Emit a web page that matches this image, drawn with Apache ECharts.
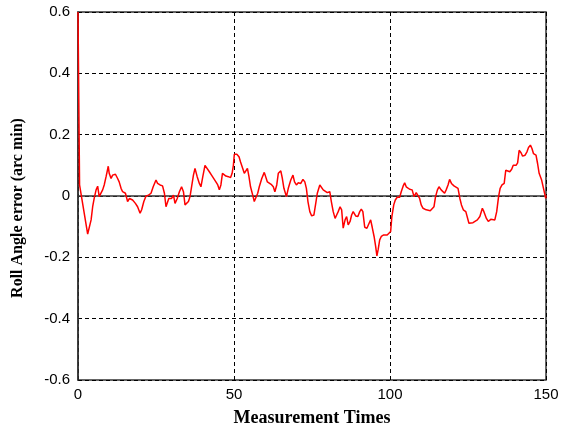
<!DOCTYPE html>
<html>
<head>
<meta charset="utf-8">
<script src="https://cdn.jsdelivr.net/npm/echarts@6/dist/echarts.min.js"></script>
<style>
html, body { margin: 0; padding: 0; background: #fff; }
#chart { width: 566px; height: 432px; }
</style>
</head>
<body>
<div id="chart"></div>
<script>
var times = [
  0, 0.5, 3.1, 4.2, 4.7, 5.2, 5.8, 6.3, 6.8, 7.4, 7.9, 8.4, 9, 9.7, 10, 10.6, 11.1, 12, 12.7, 13.2,
  13.8, 14.3, 15.2, 15.9, 16.5, 17, 17.5, 18.4, 19.1, 19.9, 20.4, 21.1, 21.8, 22.6, 23.4, 24.1, 25, 25.5,
  26.3, 27.1, 27.7, 28.2, 29.1, 30, 30.6, 31.1, 31.8, 32.5, 33.2, 33.8, 34.3, 34.8, 35.4, 35.9, 36.4,
  37, 37.5, 38.2, 38.9, 39.4, 40, 40.7, 41.2, 42.1, 42.8, 43.4, 44.2, 44.8, 45.3, 45.8, 46.3, 46.8,
  47.4, 48.2, 48.9, 49.4, 49.8, 50.1, 50.9, 51.6, 52.1, 52.8, 53.3, 53.8, 54.3, 54.8, 55.3, 56, 56.5,
  57.1, 57.6, 58.1, 58.9, 59.7, 60.2, 60.7, 61.2, 61.9, 62.6, 63.1, 63.7, 64.2, 65, 65.5, 66, 66.8,
  67.4, 68.2, 68.9, 69.4, 70, 70.6, 71.4, 72.1, 72.7, 73.2, 73.7, 74.3, 74.9, 75.6, 76.2, 76.7, 77.5,
  78.1, 78.6, 79.2, 79.9, 80.7, 81.2, 81.8, 82.4, 82.9, 83.4, 84, 84.5, 85, 85.6, 86.1, 86.6, 87.2,
  87.7, 88.2, 89, 89.7, 90.3, 90.8, 91.3, 91.9, 92.6, 93.3, 93.8, 94.3, 94.9, 95.4, 95.8, 96.2, 96.7,
  97.2, 98, 98.6, 99.1, 99.7, 100.2, 100.6, 101.2, 101.7, 102.3, 103.1, 103.6, 104.2, 104.7, 105.2,
  105.8, 106.3, 107.1, 107.7, 108.4, 109, 109.5, 110, 110.6, 111.1, 111.6, 112.2, 112.9, 113.5, 114.1,
  114.6, 115.2, 115.7, 116.4, 117, 117.5, 118, 118.6, 119.1, 119.7, 120.5, 121.1, 121.8, 122.4, 122.9,
  123.5, 124.3, 124.8, 125.3, 125.9, 126.6, 127.2, 128, 128.8, 129.6, 130.1, 130.9, 131.5, 132.3,
  132.8, 133.6, 134.2, 134.8, 135.3, 135.9, 136.6, 137.1, 137.7, 138.4, 139, 139.5, 140.4, 140.9,
  141.4, 142, 142.5, 143.3, 143.9, 144.4, 145, 145.5, 146, 146.8, 147.3, 147.8, 148.6, 149.2, 149.9, 150
];
// roll angle error values, arc min
var rollError = [
  0.6, 0.036, -0.124, -0.078, -0.035, -0.007, 0.02, 0.032, -0.002, 0.01, 0.02, 0.036, 0.063, 0.097, 0.074, 0.057, 0.068, 0.071, 0.057, 0.046,
  0.025, 0.014, 0.009, -0.018, -0.008, -0.002, -0.013, -0.024, -0.035, -0.056, -0.045, -0.018, 0, 0.003, 0.009, 0.03, 0.052, 0.041,
  0.036, 0.033, 0.009, -0.035, -0.008, -0.008, 0.003, -0.024, -0.008, 0.014, 0.03, 0.014, -0.029, -0.029, -0.018, -0.002, 0.03,
  0.068, 0.09, 0.063, 0.041, 0.03, 0.063, 0.1, 0.095, 0.079, 0.068, 0.063, 0.046, 0.036, 0.02, 0.036, 0.074, 0.079,
  0.065, 0.063, 0.06, 0.074, 0.1, 0.136, 0.136, 0.128, 0.111, 0.09, 0.074, 0.079, 0.09, 0.063, 0.03, 0.003, -0.018,
  -0.013, 0.009, 0.03, 0.057, 0.077, 0.074, 0.046, 0.041, 0.038, 0.03, 0.014, 0.036, 0.074, 0.082, 0.057, 0.025, -0.002,
  0.025, 0.052, 0.068, 0.046, 0.036, 0.043, 0.041, 0.054, 0.046, 0.025, -0.018, -0.051, -0.065, -0.062, -0.024, 0.009, 0.036,
  0.041, 0.02, 0.025, 0.011, 0.014, -0.018, -0.051, -0.073, -0.062, -0.051, -0.035, -0.045, -0.105, -0.078, -0.067, -0.094, -0.083,
  -0.062, -0.051, -0.065, -0.067, -0.051, -0.043, -0.051, -0.102, -0.105, -0.089, -0.078, -0.102, -0.132, -0.164, -0.195, -0.175, -0.143,
  -0.132, -0.127, -0.132, -0.127, -0.132, -0.116, -0.067, -0.029, -0.013, -0.004, -0.004, 0.014, 0.032, 0.043, 0.03,
  0.025, 0.022, 0.02, -0.002, 0.011, 0.014, -0.008, -0.029, -0.04, -0.043, -0.045, -0.045, -0.048, -0.045, -0.035,
  -0.002, 0.02, 0.03, 0.02, 0.014, 0.009, 0.02, 0.036, 0.054, 0.041, 0.033, 0.03, 0.025, -0.008, -0.029,
  -0.045, -0.051, -0.049, -0.089, -0.092, -0.087, -0.083, -0.078, -0.067, -0.04, -0.051, -0.073, -0.083, -0.076,
  -0.073, -0.078, -0.051, -0.002, 0.025, 0.036, 0.041, 0.084, 0.087, 0.079, 0.087, 0.1, 0.1, 0.108,
  0.149, 0.141, 0.13, 0.133, 0.144, 0.158, 0.166, 0.155, 0.138, 0.133, 0.106, 0.074, 0.052, 0.025, -0.008, 0.003
];
var xTicks = [0, 50, 100, 150];
var yTicks = [-0.6, -0.4, -0.2, 0, 0.2, 0.4, 0.6];

var seriesData = [];
for (var i = 0; i < times.length; i++) {
  seriesData.push([times[i], rollError[i]]);
}

var chart = echarts.init(document.getElementById('chart'));
var gridLine = { show: true, lineStyle: { color: '#000', width: 1, type: [4, 3] } };
chart.setOption({
  animation: false,
  grid: {
    left: 78, right: 20, top: 12, bottom: 50,
    show: true, borderColor: '#333', borderWidth: 1.5
  },
  xAxis: {
    type: 'value',
    min: xTicks[0], max: xTicks[xTicks.length - 1], interval: 50,
    name: 'Measurement Times',
    nameLocation: 'middle',
    nameGap: 29,
    nameTextStyle: { fontFamily: 'Liberation Serif', fontWeight: 'bold', fontSize: 18, color: '#000' },
    axisLine: { show: true, lineStyle: { color: '#333', width: 1.5 } },
    axisTick: { show: false },
    axisLabel: { color: '#000', fontFamily: 'Liberation Sans', fontSize: 15, margin: 7 },
    splitLine: gridLine
  },
  yAxis: {
    type: 'value',
    min: yTicks[0], max: yTicks[yTicks.length - 1], interval: 0.2,
    name: 'Roll Angle error (arc min)',
    nameLocation: 'middle',
    nameGap: 52,
    nameTextStyle: {
      fontFamily: 'Liberation Serif', fontWeight: 'bold', fontSize: 16, color: '#000',
      padding: [0, 24, 0, 0]
    },
    axisLine: { show: true, lineStyle: { color: '#333', width: 1.5 } },
    axisTick: { show: false },
    axisLabel: {
      color: '#000', fontFamily: 'Liberation Sans', fontSize: 15, margin: 8,
      formatter: function (v) { return String(Math.round(v * 10) / 10); }
    },
    splitLine: gridLine
  },
  series: [{
    type: 'line',
    data: seriesData,
    symbol: 'none',
    lineStyle: { color: '#ff0000', width: 1.5 }
  }]
});
</script>
</body>
</html>
